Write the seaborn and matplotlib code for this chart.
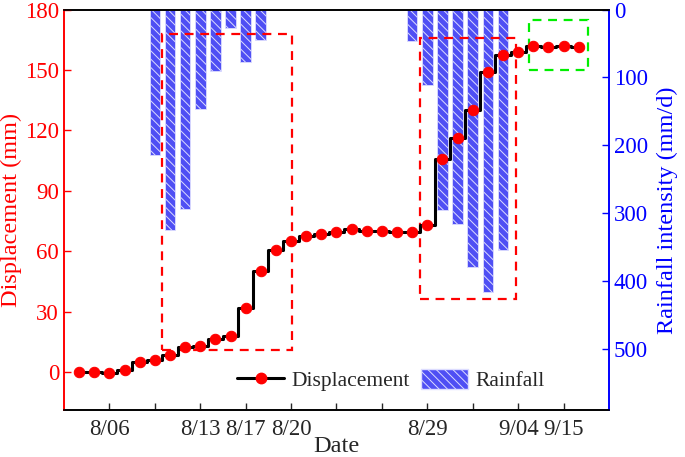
import matplotlib
matplotlib.use('Agg')
import matplotlib.pyplot as plt
from matplotlib.patches import Rectangle, Patch
from matplotlib.lines import Line2D
import seaborn as sns

# daily index (0 = 8/04)
day_idx = list(range(34))
displacement = [0, 0, -0.5, 1.2, 5.1, 6.0, 8.3, 12.5, 12.9, 16.3, 18.2, 31.8,
                50.0, 60.6, 65.0, 67.8, 68.8, 69.8, 71.0, 70.3, 70.3, 69.5,
                69.5, 73.0, 105.8, 116.1, 130.1, 149.1, 157.4, 158.7, 162.0,
                161.5, 162.0, 161.5]

rain_idx = [5, 6, 7, 8, 9, 10, 11, 12, 22, 23, 24, 25, 26, 27, 28]
rainfall = [214, 325, 294, 147, 90, 27, 78, 45, 47, 112, 295, 316, 380, 416, 355]

tick_pos = [2, 5, 8, 11, 14, 17, 20, 23, 26, 29, 32]
tick_labels = ['8/06', '', '8/13', '8/17', '8/20', '', '', '8/29', '', '9/04', '9/15']

# highlighted regions: (x0, x1, y0, y1) in displacement axis units
red_boxes = [(5.45, 14.05, 10.8, 167.8), (22.5, 28.85, 36.4, 166.0)]
green_box = (29.7, 33.6, 150.0, 174.8)

sns.set_style('ticks')
plt.rcParams['font.family'] = ['Liberation Serif', 'DejaVu Serif']
plt.rcParams['hatch.linewidth'] = 0.7

fig = plt.figure(figsize=(6.85, 4.57), dpi=100)
ax1 = fig.add_axes([0.0934, 0.1018, 0.7956, 0.8774])
ax2 = ax1.twinx()

red = '#ff0000'
blue = '#0000ff'
bar_col = '#4f4ff4'
bar_edge = '#dcdcff'

# rainfall bars hanging from top
ax2.bar(rain_idx, rainfall, width=0.7, color=bar_col, edgecolor=bar_edge,
        linewidth=0.6, hatch='\\\\\\\\')
ax2.set_ylim(591, 0)
ax2.set_yticks([0, 100, 200, 300, 400, 500])
ax2.set_ylabel('Rainfall intensity (mm/d)', color=blue, fontsize=17.5, labelpad=6)

# displacement
sns.lineplot(x=day_idx, y=displacement, ax=ax1, color='black', linewidth=2.2,
             drawstyle='steps-mid', marker='o', markersize=7.5,
             markerfacecolor=red, markeredgecolor=red, zorder=5)

for x0, x1, y0, y1 in red_boxes:
    ax1.add_patch(Rectangle((x0, y0), x1 - x0, y1 - y0, fill=False,
                            edgecolor=red, linestyle=(0, (4, 3)), linewidth=1.6, zorder=3))
gx0, gx1, gy0, gy1 = green_box
ax1.add_patch(Rectangle((gx0, gy0), gx1 - gx0, gy1 - gy0, fill=False,
                        edgecolor='#00ee00', linestyle=(0, (4, 3)), linewidth=1.6, zorder=3))

ax1.set_zorder(ax2.get_zorder() + 1)
ax1.patch.set_visible(False)

ax1.set_xlim(-1, 35)
ax1.set_ylim(-19, 180)
ax1.set_yticks([0, 30, 60, 90, 120, 150, 180])
ax1.set_xticks(tick_pos)
ax1.set_xticklabels(tick_labels)
ax1.set_xlabel('Date', fontsize=17.5, labelpad=-3)
ax1.set_ylabel('Displacement (mm)', color=red, fontsize=17.5, labelpad=2)

ax1.tick_params(axis='x', direction='in', length=5, width=1, labelsize=16.5, pad=6)
ax1.tick_params(axis='y', direction='in', length=5, width=1, colors=red, labelsize=16.5)
ax2.tick_params(axis='y', direction='in', length=5, width=1, colors=blue, labelsize=16.5)

for ax in (ax1, ax2):
    ax.spines['left'].set_color(red)
    ax.spines['right'].set_color(blue)
    ax.spines['top'].set_color('black')
    ax.spines['bottom'].set_color('black')
    for s in ax.spines.values():
        s.set_linewidth(1.2)

handles = [Line2D([], [], color='black', linewidth=2.2, marker='o', markersize=7.5,
                  markerfacecolor=red, markeredgecolor=red),
           Patch(facecolor=bar_col, edgecolor=bar_edge, hatch='\\\\\\\\')]
ax1.legend(handles, ['Displacement', 'Rainfall'], loc='center',
           bbox_to_anchor=(0.6, 0.075), ncol=2, frameon=False, fontsize=15.5,
           handlelength=2.2, handleheight=1.0, columnspacing=0.5, handletextpad=0.35)

fig.savefig('out.png', dpi=100)
